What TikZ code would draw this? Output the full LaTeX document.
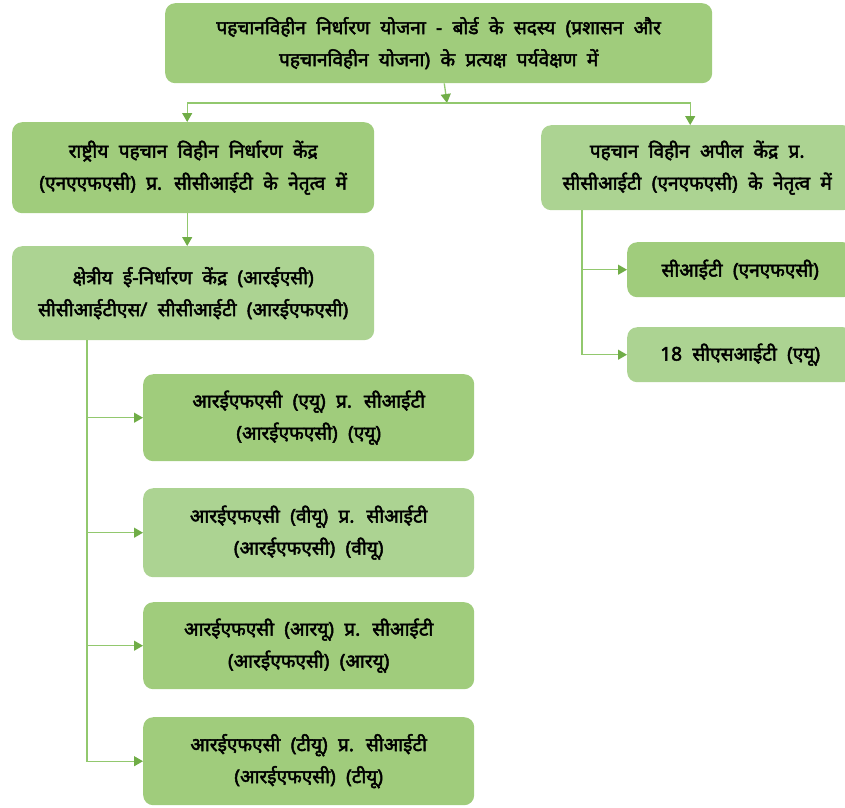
\documentclass[tikz,border=0pt]{standalone}
\usepackage{fontspec}
\newfontfamily\deva[Script=Devanagari,FakeBold=2.4,WordSpace=2.1]{Noto Sans}
\usetikzlibrary{arrows.meta}
\definecolor{boxA}{RGB}{160,204,124}
\definecolor{boxB}{RGB}{172,211,146}
\definecolor{lineG}{RGB}{146,200,110}
\definecolor{tipG}{RGB}{112,173,71}
\begin{document}
\begin{tikzpicture}[x=1pt,y=-1pt,
  box/.style={draw=none, fill=boxA, rounded corners=10pt, align=center,
    font=\deva\fontsize{19}{32}\selectfont, inner sep=0pt, anchor=north west},
  lbox/.style={box, fill=boxB},
  conn/.style={draw=lineG, line width=1.3pt},
  arr/.style={conn, -{Triangle[length=9pt,width=10pt,color=tipG]}}]
\clip (0,0) rectangle (845,807);
\useasboundingbox (0,0) rectangle (845,807);

\node[box, minimum width=547pt, minimum height=80pt] (top) at (165,3)
  {पहचानविहीन निर्धारण योजना - बोर्ड के सदस्य (प्रशासन और\\पहचानविहीन योजना) के प्रत्यक्ष पर्यवेक्षण में};
\node[box, minimum width=362pt, minimum height=91pt] (nafac) at (12,122)
  {राष्ट्रीय पहचान विहीन निर्धारण केंद्र\\(एनएएफएसी) प्र. सीसीआईटी के नेतृत्व में};
\node[lbox, minimum width=362pt, minimum height=94pt] (reg) at (12,246)
  {क्षेत्रीय ई-निर्धारण केंद्र (आरईएसी)\\सीसीआईटीएस/ सीसीआईटी (आरईएफएसी)};
\node[box, minimum width=331pt, minimum height=87pt] (au) at (143,374)
  {आरईएफएसी (एयू) प्र. सीआईटी\\(आरईएफएसी) (एयू)};
\node[lbox, minimum width=331pt, minimum height=89pt] (vu) at (143,488)
  {आरईएफएसी (वीयू) प्र. सीआईटी\\(आरईएफएसी) (वीयू)};
\node[box, minimum width=331pt, minimum height=87pt] (ru) at (143,602)
  {आरईएफएसी (आरयू) प्र. सीआईटी\\(आरईएफएसी) (आरयू)};
\node[box, minimum width=331pt, minimum height=88pt] (tu) at (143,717)
  {आरईएफएसी (टीयू) प्र. सीआईटी\\(आरईएफएसी) (टीयू)};
\node[lbox, minimum width=312pt, minimum height=85pt] (appeal) at (541,125)
  {पहचान विहीन अपील केंद्र प्र.\\सीसीआईटी (एनएफएसी) के नेतृत्व में};
\node[box, minimum width=226pt, minimum height=55pt] (cit) at (627,242)
  {सीआईटी (एनएफएसी)};
\node[lbox, minimum width=226pt, minimum height=55pt] (csit) at (627,327)
  {18 सीएसआईटी (एयू)};

\coordinate (hj) at (447,103);
\draw[arr] (top) -- (hj);
\draw[arr] (hj) -| ([xshift=-6pt]nafac.north);
\draw[arr] (hj) -| ([xshift=-7pt]appeal.north);
\draw[arr] ([xshift=-6pt]nafac.south) -- ([xshift=-6pt]reg.north);

\coordinate (lv) at (87,340);
\draw[arr] (lv) |- (au);
\draw[arr] (lv) |- (vu);
\draw[arr] (lv) |- (ru);
\draw[arr] (lv) |- (tu);

\coordinate (rv) at (582,210);
\draw[arr] (rv) |- (cit);
\draw[arr] (rv) |- (csit);
\end{tikzpicture}
\end{document}
